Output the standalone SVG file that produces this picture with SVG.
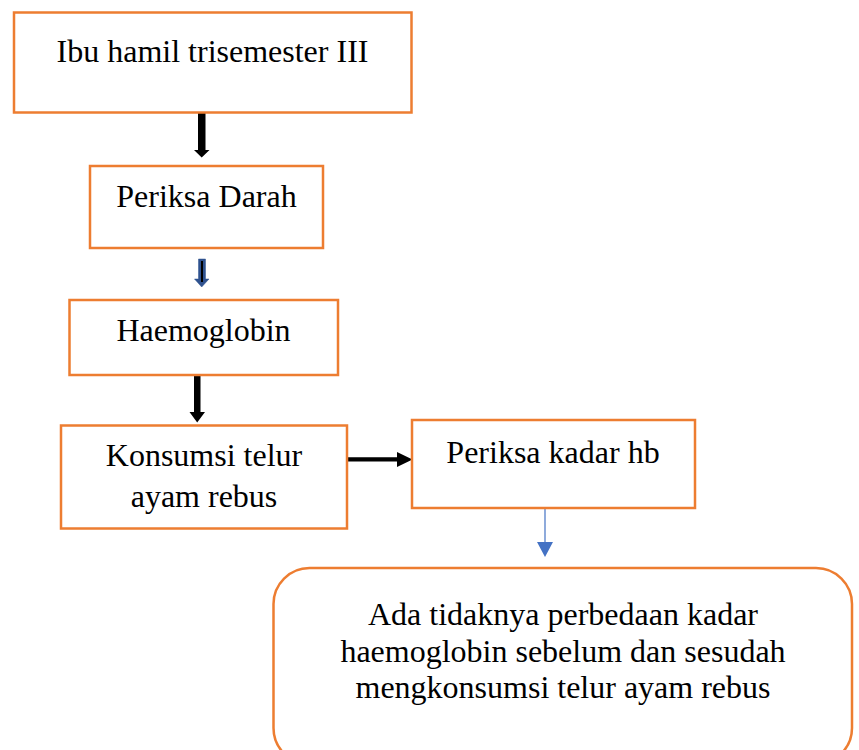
<svg xmlns="http://www.w3.org/2000/svg" width="859" height="750" viewBox="0 0 859 750">
<style>
.box{fill:#ffffff;stroke:#ED7D31;stroke-width:2.5}
.t{font-family:"Liberation Serif","Times New Roman",serif;font-size:32px;fill:#000;text-anchor:middle}
</style>
<rect width="859" height="750" fill="#ffffff"/>
<g id="connectors">
  <path d="M198,113 H205.5 V150 H209.5 L201.7,157.5 L194,150 H198 Z" fill="#000"/>
  <path d="M198.5,259 H205.5 V279 H209 L201.7,287 L194.5,279 H198.5 Z" fill="#2F528F" stroke="#2F528F" stroke-width="0.5"/>
  <line x1="202" y1="261" x2="202" y2="282" stroke="#000" stroke-width="2"/>
  <path d="M194,375 H200.5 V412 H205 L197.2,422.5 L189.5,412 H194 Z" fill="#000"/>
  <path d="M347,457.3 H397 V452 L412.5,459.5 L397,467 V461.5 H347 Z" fill="#000"/>
  <line x1="545" y1="509" x2="545" y2="543" stroke="#4472C4" stroke-width="1.2"/>
  <path d="M537,542 H553 L545,557 Z" fill="#4472C4"/>
</g>
<g id="node1">
  <rect class="box" x="14" y="12.5" width="397.5" height="100"/>
  <text class="t" x="212.5" y="62">Ibu hamil trisemester III</text>
</g>
<g id="node2">
  <rect class="box" x="90" y="166" width="233" height="82"/>
  <text class="t" x="206.5" y="207">Periksa Darah</text>
</g>
<g id="node3">
  <rect class="box" x="69.5" y="300" width="268.5" height="75"/>
  <text class="t" x="203.5" y="341">Haemoglobin</text>
</g>
<g id="node4">
  <rect class="box" x="61" y="425.5" width="286" height="103"/>
  <text class="t" x="204" y="466">Konsumsi telur</text>
  <text class="t" x="204" y="507">ayam rebus</text>
</g>
<g id="node5">
  <rect class="box" x="412" y="420" width="283" height="88"/>
  <text class="t" x="553" y="463">Periksa kadar hb</text>
</g>
<g id="node6">
  <rect class="box" x="273.5" y="568" width="578.5" height="196" rx="36" ry="36"/>
  <text class="t" x="563" y="625">Ada tidaknya perbedaan kadar</text>
  <text class="t" x="563" y="662">haemoglobin sebelum dan sesudah</text>
  <text class="t" x="563" y="698">mengkonsumsi telur ayam rebus</text>
</g>
</svg>
